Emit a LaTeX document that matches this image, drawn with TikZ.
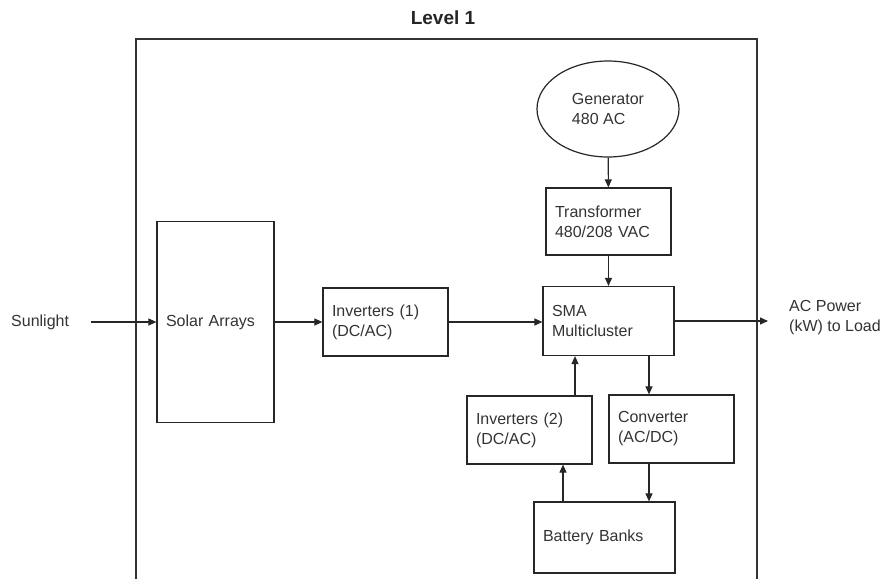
\documentclass[tikz,border=0pt]{standalone}
\usepackage{fontspec}
\setmainfont{Liberation Sans}
\usetikzlibrary{shapes.geometric, arrows.meta}

\tikzset{
  blk/.style={draw=black!85, line width=1.2pt, rectangle, align=left,
    inner xsep=9pt, inner ysep=0pt, text=black!80},
  lbl/.style={align=left, inner sep=0pt, text=black!80},
  flow/.style={->, line width=1.1pt, draw=black!85}
}

\begin{document}
\begin{tikzpicture}[x=1pt, y=-1pt, >={Triangle[length=8pt, width=7pt]},
  font=\fontsize{16}{20}\selectfont]
  \useasboundingbox (0,0) rectangle (886,579);

  % outer frame, open at the bottom
  \draw[black!80, line width=1.4pt] (136,579) -- (136,39) -- (757,39) -- (757,579);
  \node[font=\fontsize{19}{22}\selectfont\bfseries, text=black!85] (title) at (443,18) {Level 1};

  % blocks
  \node[lbl, anchor=west] (sun) at (11,322) {Sunlight};
  \node[blk, text width=99pt, minimum height=201pt] (solar) at (215.5,322) {Solar Arrays};
  \node[blk, text width=107pt, minimum height=68pt] (inv1) at (385.5,322) {Inverters (1)\\(DC/AC)};
  \node[blk, text width=113pt, minimum height=69pt] (sma) at (608.5,321) {SMA\\Multicluster};
  \node[blk, text width=107pt, minimum height=67pt] (trafo) at (608.5,221.5) {Transformer\\480/208 VAC};
  \node[draw=black!85, line width=1.2pt, ellipse, minimum width=142pt, minimum height=96pt,
    align=left, inner sep=0pt, text=black!80] (gen) at (608,109) {Generator\\480 AC};
  \node[blk, text width=107pt, minimum height=68pt] (inv2) at (529.5,430) {Inverters (2)\\(DC/AC)};
  \node[blk, text width=107pt, minimum height=68pt] (conv) at (671.5,429) {Converter\\(AC/DC)};
  \node[blk, text width=123pt, minimum height=71pt] (batt) at (604.5,537.5) {Battery Banks};
  \node[lbl, anchor=west] (load) at (789,318) {AC Power\\(kW) to Load};
  \coordinate (out) at (768,321);

  % connectors
  \draw[flow, shorten <=22pt] (sun.east) -- (solar.west);
  \draw[flow] (solar.east) -- (inv1.west);
  \draw[flow] (inv1.east) -- (inv1.east -| sma.west);
  \draw[flow] (sma.east) -- (out);
  \draw[flow] (gen) -- (trafo);
  \draw[flow] (trafo) -- (sma);
  \draw[flow] ([xshift=45.5pt]inv2.north) -- ([xshift=45.5pt]inv2.north |- sma.south);
  \draw[flow] ([xshift=33.5pt]inv2.south |- batt.north) -- ([xshift=33.5pt]inv2.south);
  \draw[flow] ([xshift=-22.5pt]conv.north |- sma.south) -- ([xshift=-22.5pt]conv.north);
  \draw[flow] ([xshift=-22.5pt]conv.south) -- ([xshift=-22.5pt]conv.south |- batt.north);
\end{tikzpicture}
\end{document}
